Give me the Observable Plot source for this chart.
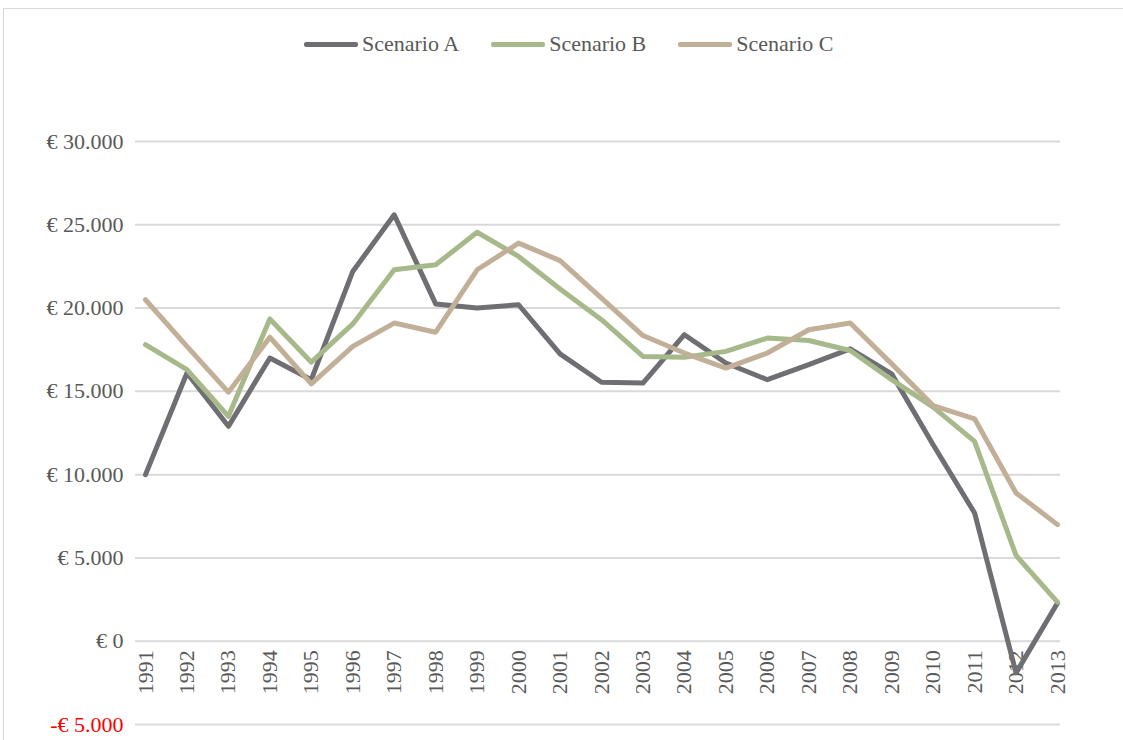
<!DOCTYPE html>
<html>
<head>
<meta charset="utf-8">
<script src="https://cdn.jsdelivr.net/npm/d3@7"></script>
<script src="https://cdn.jsdelivr.net/npm/@observablehq/plot@0.6"></script>
<style>
  html, body { margin: 0; padding: 0; background: #fff; width: 1123px; height: 740px; overflow: hidden; }
  #frame { position: absolute; left: 3px; top: 8px; width: 1130px; height: 760px; border: 1px solid #d9d9d9; box-sizing: border-box; }
  #legend { position: absolute; left: 304px; top: 31px; display: flex; align-items: center; font-family: "Liberation Serif", serif; font-size: 22px; color: #595959; }
  .item { display: flex; align-items: center; margin-right: 32px; }
  .sw { width: 54px; height: 5px; border-radius: 2px; margin-right: 4px; }
  #chart { position: absolute; left: 0; top: 90px; }
</style>
</head>
<body>
<div id="frame"></div>
<div id="legend"></div>
<div id="chart"></div>
<script>
const years = [1991,1992,1993,1994,1995,1996,1997,1998,1999,2000,2001,2002,2003,2004,2005,2006,2007,2008,2009,2010,2011,2012,2013];
const scenarioA = [10000,16100,12900,17000,15700,22200,25600,20250,20000,20200,17250,15550,15500,18400,16700,15700,16600,17550,16050,11800,7700,-1900,2300];
const scenarioB = [17800,16300,13500,19350,16750,19050,22300,22600,24550,23100,21150,19300,17100,17050,17400,18200,18050,17450,15700,14050,12000,5150,2350];
const scenarioC = [20500,17700,14950,18250,15450,17700,19100,18550,22300,23900,22850,20600,18350,17300,16400,17300,18700,19100,16650,14150,13350,8900,7000];
const seriesNames = ["Scenario A", "Scenario B", "Scenario C"];
const seriesColors = ["#6f6e73", "#a7b98b", "#c2af97"];
const posTicks = [0,5000,10000,15000,20000,25000,30000];
const negTicks = [-5000];

const seriesValues = [scenarioA, scenarioB, scenarioC];
const rows = [];
seriesNames.forEach((name, i) => {
  years.forEach((yr, j) => rows.push({series: name, year: yr, value: seriesValues[i][j]}));
});

const fmt = v => (v < 0 ? "-€ " : "€ ") + d3.format(",")(Math.abs(v)).replace(/,/g, ".");

// legend
const legend = document.getElementById("legend");
seriesNames.forEach((name, i) => {
  const it = document.createElement("div");
  it.className = "item";
  const sw = document.createElement("div");
  sw.className = "sw";
  sw.style.background = seriesColors[i];
  const t = document.createElement("span");
  t.textContent = name;
  it.appendChild(sw); it.appendChild(t);
  legend.appendChild(it);
});

const chart = Plot.plot({
  width: 1123,
  height: 650,
  marginLeft: 135,
  marginRight: 63,
  marginTop: 51,
  marginBottom: 16,
  style: {fontFamily: "Liberation Serif, serif", fontSize: "22px", color: "#595959", background: "transparent"},
  x: {domain: [1991, 2013], insetLeft: 10, insetRight: 3, axis: null},
  y: {domain: [-5000, 30000], axis: null},
  color: {domain: seriesNames, range: seriesColors},
  marks: [
    Plot.gridY(posTicks.concat(negTicks), {stroke: "#d9d9d9", strokeOpacity: 1, strokeWidth: 2}),
    Plot.axisY(posTicks, {tickSize: 0, tickPadding: 12, tickFormat: fmt, fill: "#595959", fontSize: 22, label: null}),
    Plot.axisY(negTicks, {tickSize: 0, tickPadding: 12, tickFormat: fmt, fill: "#ff0000", fontSize: 22, label: null}),
    Plot.text(years, {x: d => d, y: () => 0, text: d => String(d), rotate: -90, textAnchor: "end", lineAnchor: "middle", dy: 9, fill: "#595959", fontSize: 22}),
    Plot.line(rows, {x: "year", y: "value", z: "series", stroke: "series", strokeWidth: 5, strokeLinejoin: "round", strokeLinecap: "round"})
  ]
});
document.getElementById("chart").appendChild(chart);
</script>
</body>
</html>
